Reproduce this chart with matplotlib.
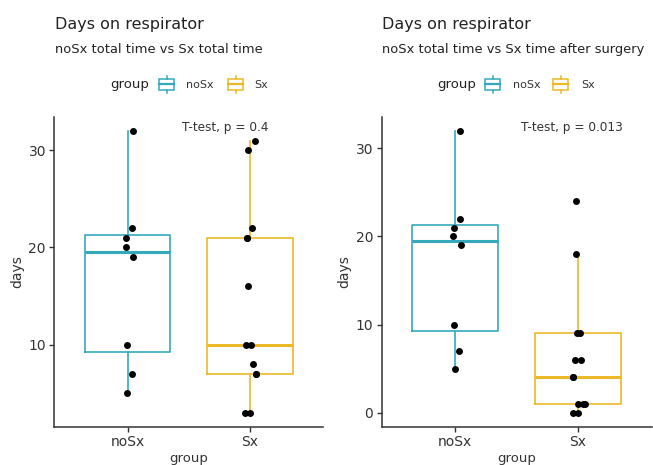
import numpy as np
import matplotlib
matplotlib.use("Agg")
import matplotlib.pyplot as plt
from matplotlib.patches import Rectangle
from matplotlib.lines import Line2D

# ---------------- data ----------------
groups = ["noSx", "Sx"]
colors = ["#35A9BB", "#EBB927"]

left_noSx = [32, 22, 21, 20, 19, 10, 7, 5]
left_Sx = [31, 30, 22, 21, 21, 16, 10, 10, 8, 7, 7, 3, 3]
right_noSx = [32, 22, 21, 20, 19, 10, 7, 5]
right_Sx = [24, 18, 9, 9, 6, 6, 4, 4, 1, 1, 1, 0, 0]

# horizontal jitter (in category units)
left_noSx_jit = [0.041, 0.038, -0.011, -0.016, 0.047, -0.008, 0.033, -0.003]
left_Sx_jit = [0.041, -0.014, 0.014, -0.022, -0.022, -0.014, -0.036, 0.005,
               0.022, 0.047, 0.047, -0.041, 0.0]
right_noSx_jit = [0.041, 0.038, -0.011, -0.016, 0.047, -0.008, 0.033, -0.003]
right_Sx_jit = [-0.014, -0.019, -0.005, 0.014, -0.027, 0.022, -0.041, -0.041,
                0.0, 0.041, 0.055, -0.041, 0.0]

titles = ["Days on respirator", "Days on respirator"]
subtitles = ["noSx total time vs Sx total time",
             "noSx total time vs Sx time after surgery"]
pvals = ["T-test, p = 0.4", "T-test, p = 0.013"]
ylabel = "days"
xlabel = "group"
legend_title = "group"
yticks_left = [10, 20, 30]
yticks_right = [0, 10, 20, 30]

# ---------------- figure ----------------
W, H = 653, 465
fig = plt.figure(figsize=(W / 100, H / 100), dpi=100)
fig.patch.set_facecolor("white")

def fx(x):
    return x / W

def fy(y):
    return 1 - y / H

top_px, bot_px = 116.7, 426.7
axL = fig.add_axes([fx(54.3), fy(bot_px), fx(323.3) - fx(54.3), fy(top_px) - fy(bot_px)])
axR = fig.add_axes([fx(381.7), fy(bot_px), fx(651.7) - fx(381.7), fy(top_px) - fy(bot_px)])

dark = "#333333"

def panel(ax, d1, d2, j1, j2, yticks, ptxt, px):
    data = [d1, d2]
    bp = ax.boxplot(data, positions=[1, 2], widths=0.7, whis=1.5,
                    showfliers=False, showcaps=False, patch_artist=False)
    for i, c in enumerate(colors):
        bp["boxes"][i].set(color=c, linewidth=1.2)
        bp["medians"][i].set(color=c, linewidth=2.2)
        for w in bp["whiskers"][2 * i:2 * i + 2]:
            w.set(color=c, linewidth=1.2)
    for k, (vals, jit) in enumerate(zip(data, [j1, j2])):
        xs = np.array(jit) + (k + 1)
        ax.plot(xs, vals, "o", color="black", markersize=5.0, zorder=5,
                markeredgewidth=0)
    allv = d1 + d2
    lo, hi = min(allv), max(allv)
    pad = 0.05 * (hi - lo)
    ax.set_ylim(lo - pad, hi + pad)
    ax.set_xlim(0.4, 2.6)
    ax.set_xticks([1, 2])
    ax.set_xticklabels(groups, fontsize=10, color=dark)
    ax.set_yticks(yticks)
    ax.set_yticklabels([str(t) for t in yticks], fontsize=10, color=dark)
    for s in ["top", "right"]:
        ax.spines[s].set_visible(False)
    for s in ["left", "bottom"]:
        ax.spines[s].set_color(dark)
        ax.spines[s].set_linewidth(1.1)
    ax.tick_params(axis="both", length=3.5, width=1.0, color=dark, pad=2.5)
    ax.set_xlabel(xlabel, fontsize=9.5, color=dark, va="top")
    ax.xaxis.set_label_coords(0.5, -0.08)
    ax.set_ylabel(ylabel, fontsize=10, color=dark, va="center")
    ax.yaxis.set_label_coords(-0.138, 0.5)
    ax.text(px, max(allv), ptxt, fontsize=8.7, color=dark, ha="left",
            va="baseline")

panel(axL, left_noSx, left_Sx, left_noSx_jit, left_Sx_jit, yticks_left, pvals[0], 1.447)
panel(axR, right_noSx, right_Sx, right_noSx_jit, right_Sx_jit, yticks_right, pvals[1], 1.534)

# titles
for x0, t, s in [(55, titles[0], subtitles[0]), (381.7, titles[1], subtitles[1])]:
    fig.text(fx(x0), fy(29), t, fontsize=11.5, color="#222222", ha="left", va="baseline")
    fig.text(fx(x0), fy(52.7), s, fontsize=9.4, color="#222222", ha="left", va="baseline")

# legends
def key(x0, c):
    w = 15
    r = Rectangle((fx(x0), fy(90)), fx(w), fy(79) - fy(90), transform=fig.transFigure,
                  fill=False, edgecolor=c, linewidth=1.1)
    fig.add_artist(r)
    fig.add_artist(Line2D([fx(x0), fx(x0 + w)], [fy(84.5), fy(84.5)],
                          transform=fig.transFigure, color=c, linewidth=1.6))
    xc = x0 + w / 2
    fig.add_artist(Line2D([fx(xc), fx(xc)], [fy(76), fy(79)], transform=fig.transFigure,
                          color=c, linewidth=1.1))
    fig.add_artist(Line2D([fx(xc), fx(xc)], [fy(90), fy(93)], transform=fig.transFigure,
                          color=c, linewidth=1.1))

for gx, k1, l1, k2, l2 in [(110, 159, 186, 228, 254), (437, 485, 513, 553, 581)]:
    fig.text(fx(gx), fy(87.5), legend_title, fontsize=9.5, color="#222222",
             ha="left", va="baseline")
    key(k1, colors[0])
    fig.text(fx(l1), fy(87.5), groups[0], fontsize=8, color=dark, ha="left", va="baseline")
    key(k2, colors[1])
    fig.text(fx(l2), fy(87.5), groups[1], fontsize=8, color=dark, ha="left", va="baseline")

fig.savefig("out.png", dpi=100, facecolor="white")
